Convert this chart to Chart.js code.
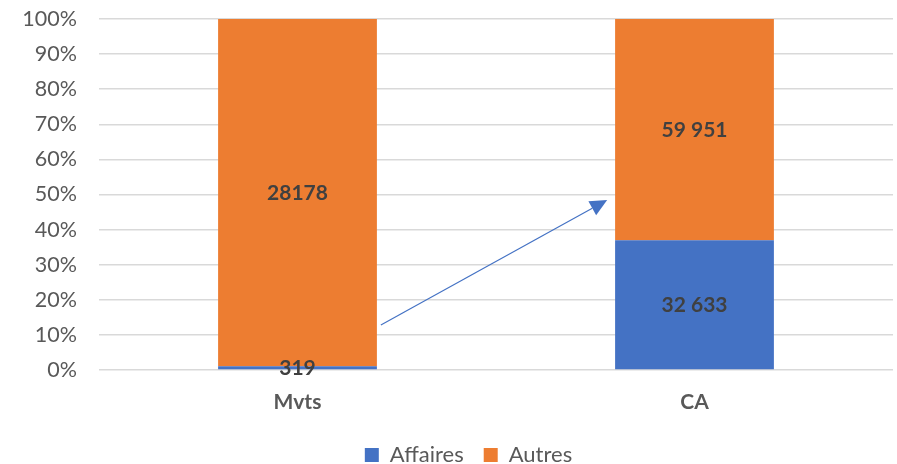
<!DOCTYPE html>
<html><head><meta charset="utf-8">
<script src="https://cdn.jsdelivr.net/npm/chart.js@4"></script>
<style>html,body{margin:0;padding:0;background:#fff}#w{width:897px;height:464px}</style>
</head><body><div id="w"><canvas id="c" width="897" height="464"></canvas></div>
<script>
const categories = ["Mvts", "CA"];
const seriesNames = ["Affaires", "Autres"];
const affairesPct = [1.1, 37.0];
const autresPct = [98.9, 63.0];
const affairesLabels = ["319", "32 633"];
const autresLabels = ["28178", "59 951"];
const yTicks = [0,10,20,30,40,50,60,70,80,90,100];
// arrow in data units: [category position, percent]
const arrowFrom = [0.21, 12.8];
const arrowTo = [0.78, 48.4];

const FONT = "Lato, 'Open Sans', sans-serif";

const labelPlugin = {
  id: 'barLabels',
  afterDatasetsDraw(chart) {
    const ctx = chart.ctx;
    ctx.save();
    ctx.font = "bold 21px " + FONT;
    ctx.fillStyle = "#404040";
    ctx.textAlign = "center";
    ctx.textBaseline = "middle";
    chart.data.datasets.forEach((ds, di) => {
      chart.getDatasetMeta(di).data.forEach((el, i) => {
        const p = el.getCenterPoint();
        ctx.fillText(ds.valueLabels[i], p.x, p.y + 1);
      });
    });
    ctx.restore();
  }
};
const arrowPlugin = {
  id: 'arrow',
  afterDatasetsDraw(chart) {
    const xs = chart.scales.x, ys = chart.scales.y;
    const x0c = xs.getPixelForValue(0), x1c = xs.getPixelForValue(1);
    const px = v => x0c + (x1c - x0c) * v;
    const x1 = px(arrowFrom[0]), y1 = ys.getPixelForValue(arrowFrom[1]);
    const x2 = px(arrowTo[0]), y2 = ys.getPixelForValue(arrowTo[1]);
    const ctx = chart.ctx;
    const ang = Math.atan2(y2 - y1, x2 - x1);
    const L = 17, W = 8;
    const bx = x2 - L * Math.cos(ang), by = y2 - L * Math.sin(ang);
    ctx.save();
    ctx.strokeStyle = "#4472c4";
    ctx.fillStyle = "#4472c4";
    ctx.lineWidth = 1.2;
    ctx.beginPath(); ctx.moveTo(x1, y1); ctx.lineTo(bx, by); ctx.stroke();
    ctx.beginPath();
    ctx.moveTo(x2, y2);
    ctx.lineTo(bx + W * Math.sin(ang), by - W * Math.cos(ang));
    ctx.lineTo(bx - W * Math.sin(ang), by + W * Math.cos(ang));
    ctx.closePath(); ctx.fill();
    ctx.restore();
  }
};
const legendShift = {
  id: 'legendShift',
  afterLayout(chart) {
    if (chart.legend) { chart.legend.left += 44; chart.legend.width -= 44; }
  }
};

new Chart(document.getElementById('c'), {
  type: 'bar',
  data: {
    labels: categories,
    datasets: [
      { label: seriesNames[0], data: affairesPct, valueLabels: affairesLabels, backgroundColor: "#4472c4", barPercentage: 0.4, categoryPercentage: 1 },
      { label: seriesNames[1], data: autresPct, valueLabels: autresLabels, backgroundColor: "#ed7d31", barPercentage: 0.4, categoryPercentage: 1 }
    ]
  },
  options: {
    responsive: false,
    animation: false,
    devicePixelRatio: 1,
    layout: { padding: { left: 0, right: 4, top: 19, bottom: 0 } },
    scales: {
      x: {
        stacked: true,
        grid: { display: false },
        border: { display: false },
        ticks: { color: "#595959", font: { family: FONT, size: 21, weight: 'bold' }, padding: 12 },
        afterFit(s) { s.height = 54; s.paddingLeft = 0; s.paddingRight = 0; }
      },
      y: {
        stacked: true,
        min: 0, max: 100,
        afterBuildTicks(s) { s.ticks = yTicks.map(v => ({ value: v })); },
        grid: { color: "#d9d9d9", lineWidth: 1.5, drawTicks: false },
        border: { display: false },
        ticks: { color: "#595959", font: { family: FONT, size: 21.5 }, padding: 22, callback: v => v + "%" },
        afterFit(s) { s.width = 99; s.paddingTop = 0; s.paddingBottom = 0; }
      }
    },
    plugins: {
      legend: {
        position: 'bottom',
        maxHeight: 40,
        labels: { color: "#595959", font: { family: FONT, size: 22 }, boxWidth: 14, boxHeight: 14, padding: 20 }
      },
      tooltip: { enabled: false }
    }
  },
  plugins: [labelPlugin, arrowPlugin, legendShift]
});
</script></body></html>
